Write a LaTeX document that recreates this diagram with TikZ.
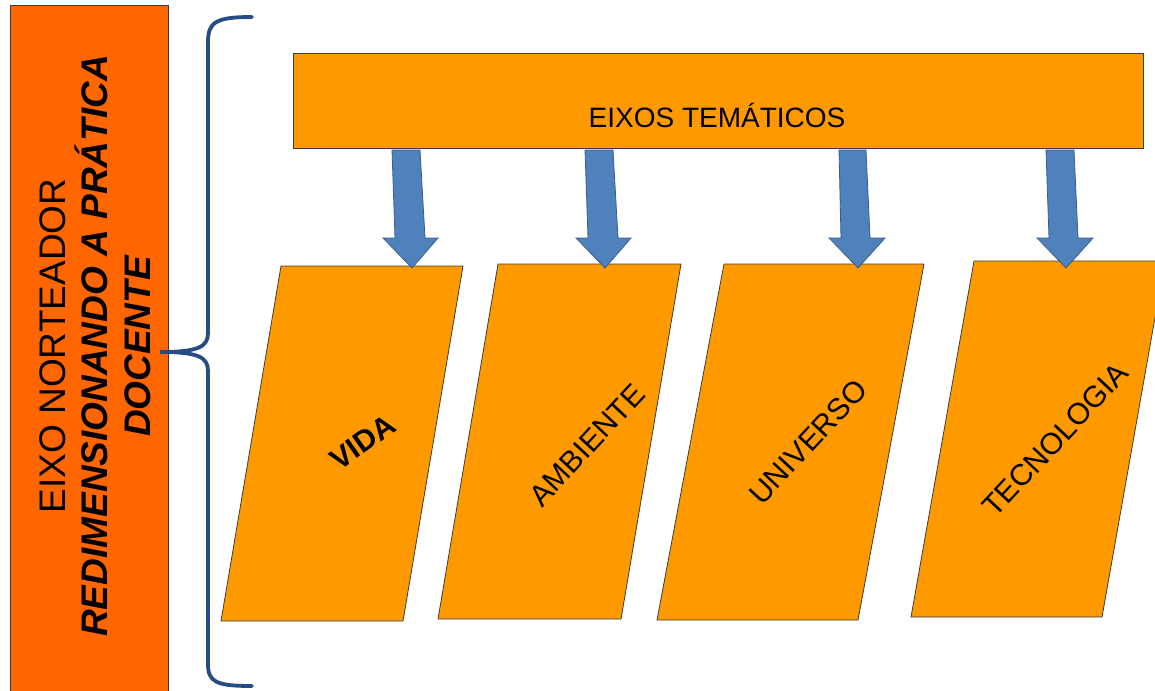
\documentclass[tikz,border=0pt]{standalone}
\usepackage{fontspec}
\setmainfont{Liberation Sans}
\definecolor{barorange}{RGB}{255,102,0}
\definecolor{boxorange}{RGB}{255,153,0}
\definecolor{arrowblue}{RGB}{79,129,189}
\definecolor{arrowedge}{RGB}{56,93,138}
\definecolor{bracecol}{RGB}{38,76,130}
\definecolor{edgegray}{RGB}{60,60,60}
\begin{document}
\begin{tikzpicture}[x=1pt,y=-1pt,
  barbox/.style={fill=barorange,draw=edgegray,line width=0.8pt},
  orangebox/.style={fill=boxorange,draw=edgegray,line width=0.8pt},
  blockarrow/.style={fill=arrowblue,draw=arrowedge,line width=0.8pt,line join=miter},
  bracestyle/.style={draw=bracecol,line width=3.8pt,line cap=round},
  bigtext/.style={font=\fontsize{37}{42.5}\selectfont,align=center,inner sep=0pt},
  toptext/.style={font=\fontsize{28}{32}\selectfont,inner sep=0pt},
  slanttext/.style={font=\fontsize{30}{34}\selectfont,inner sep=0pt}]
\useasboundingbox[fill=white] (0,0) rectangle (1155,690);

% left bar
\draw[barbox] (10,5) rectangle (168,700);
\node[bigtext,rotate=90] (norte) at (95,346)
  {EIXO NORTEADOR\\\textbf{\textit{REDIMENSIONANDO A PRÁTICA}}\\\textbf{\textit{DOCENTE}}};

% brace
\coordinate (bt) at (252,17);
\coordinate (bm) at (160,352);
\coordinate (bb) at (252,686);
\draw[bracestyle] (bt) .. controls (216,17) and (208,22) .. (208,42)
  -- (208,333) .. controls (208,347) and (198,352) .. (bm)
  .. controls (198,352) and (208,357) .. (208,371)
  -- (208,664) .. controls (208,682) and (216,686) .. (bb);

% top box
\draw[orangebox] (293,53) rectangle (1143,148);
\node[toptext,anchor=base] (temas) at (717,128) {EIXOS TEMÁTICOS};

% parallelograms
\draw[orangebox] (281,266) -- (463,266) -- (403,621) -- (221,621) -- cycle;
\draw[orangebox] (498,264) -- (681,264) -- (621,619) -- (438,619) -- cycle;
\draw[orangebox] (724,264) -- (924,264) -- (858,620) -- (657,620) -- cycle;
\draw[orangebox] (974,261) -- (1165,261) -- (1102,617) -- (911,617) -- cycle;

\node[slanttext,rotate=35] (vida) at (363,442) {\textbf{VIDA}};
\node[slanttext,rotate=47] (amb) at (587,445) {AMBIENTE};
\node[slanttext,rotate=47] (univ) at (808,442) {UNIVERSO};
\node[slanttext,rotate=47] (tec) at (1055,440) {TECNOLOGIA};

% block arrows
\draw[blockarrow] (392,150) -- (420,150) -- (425,238) -- (438,238) -- (412,268) -- (383,238) -- (395,238) -- cycle;
\draw[blockarrow] (585,150) -- (613,150) -- (618,238) -- (631,238) -- (605,268) -- (576,238) -- (588,238) -- cycle;
\draw[blockarrow] (839,150) -- (866,150) -- (870,238) -- (885,238) -- (858,268) -- (829,238) -- (841,238) -- cycle;
\draw[blockarrow] (1046,150) -- (1074,150) -- (1078,238) -- (1093,238) -- (1066,268) -- (1037,238) -- (1049,238) -- cycle;
\end{tikzpicture}
\end{document}
